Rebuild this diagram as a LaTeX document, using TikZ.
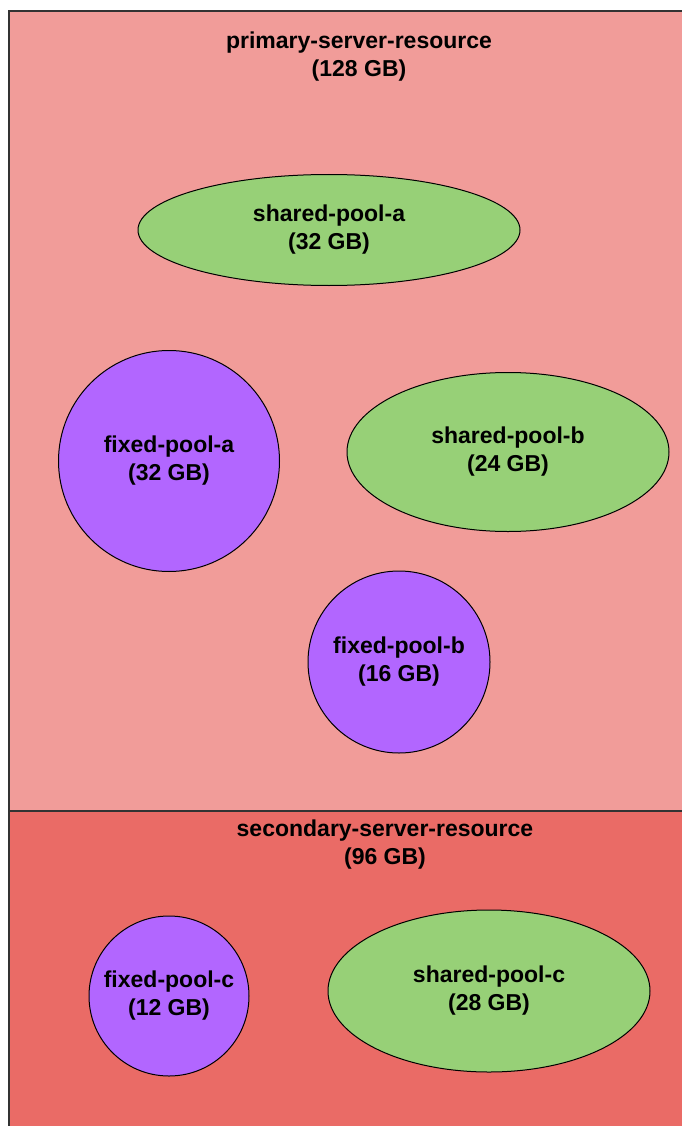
\documentclass[tikz,border=0pt]{standalone}
\usepackage{fontspec}
\setmainfont{Liberation Sans}
\usetikzlibrary{shapes.geometric}
\definecolor{primaryred}{HTML}{F19C99}
\definecolor{secondaryred}{HTML}{EA6B66}
\definecolor{sharedgreen}{HTML}{97D077}
\definecolor{fixedpurple}{HTML}{B266FF}
\newcommand\poolfont{\bfseries\fontsize{23}{28}\selectfont}

\begin{document}
\begin{tikzpicture}[x=1pt, y=-1pt,
	title/.style={align=center, font=\poolfont, inner sep=0pt},
	pool/.style={draw=black, line width=1pt, align=center, font=\poolfont, inner sep=0pt},
	shared/.style={pool, ellipse, fill=sharedgreen},
	fixed/.style={pool, circle, fill=fixedpurple}]

	\useasboundingbox (0,0) rectangle (682,1126);

	% Drawing the two server resources
	\fill [primaryred] (9,11) rectangle (720,811);
	\fill [secondaryred] (9,811) rectangle (720,1140);
	\draw [line width=1.5pt, black!80] (720,11) -- (9,11) -- (9,1140);
	\draw [line width=1.5pt, black!80] (9,811) -- (720,811);
	\node [title] (primary) at (359,57) {primary-server-resource\\(128 GB)};
	\node [title] (secondary) at (385,845) {secondary-server-resource\\(96 GB)};

	% Pools of the primary server
	\node [shared, minimum width=382pt, minimum height=111pt] (sharedA) at (329,230) {shared-pool-a\\(32 GB)};
	\node [fixed, minimum size=221pt] (fixedA) at (169,461) {fixed-pool-a\\(32 GB)};
	\node [shared, minimum width=322pt, minimum height=159pt] (sharedB) at (508,452) {shared-pool-b\\(24 GB)};
	\node [fixed, minimum size=182pt] (fixedB) at (399,662) {fixed-pool-b\\(16 GB)};

	% Pools of the secondary server
	\node [fixed, minimum size=160pt] (fixedC) at (169,996) {fixed-pool-c\\(12 GB)};
	\node [shared, minimum width=322pt, minimum height=162pt] (sharedC) at (489,991) {shared-pool-c\\(28 GB)};

\end{tikzpicture}
\end{document}
